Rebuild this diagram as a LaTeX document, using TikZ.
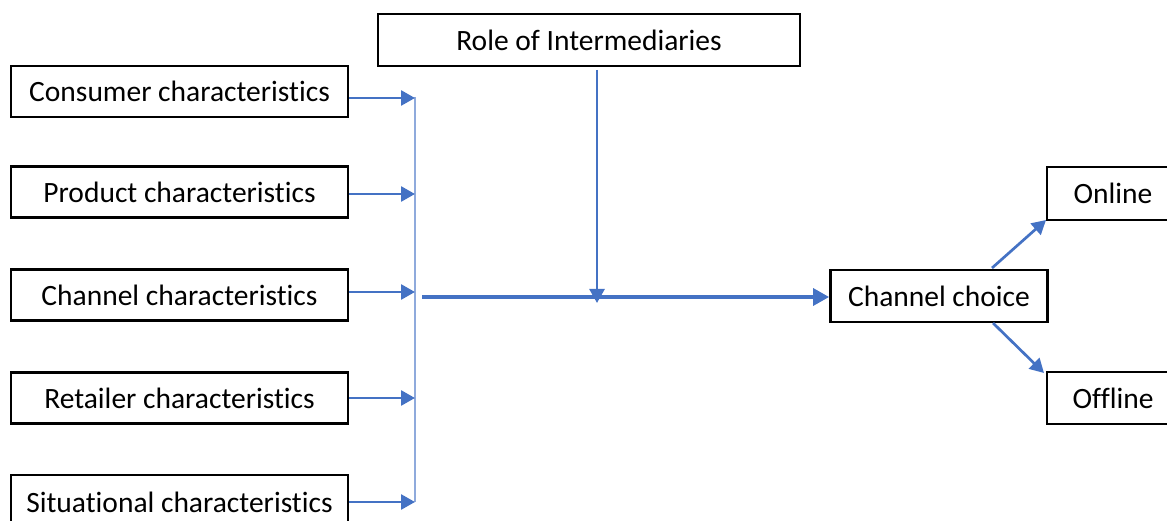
\documentclass[tikz,border=0pt]{standalone}
\usepackage{fontspec}
\setmainfont[Ligatures=NoCommon]{Carlito}
\usetikzlibrary{arrows.meta}
\definecolor{lblue}{HTML}{4472C4}
\definecolor{pblue}{HTML}{8FAADC}
\begin{document}
\begin{tikzpicture}[x=1pt,y=-1pt,
  box/.style={draw=black,line width=2.8pt,fill=white,inner sep=0pt,font=\fontsize{29.5}{33}\selectfont},
  conn/.style={draw=lblue,line width=2.7pt,-{Triangle[length=14pt,width=15pt]}},
  thick conn/.style={draw=lblue,line width=3.4pt,-{Triangle[length=16pt,width=17pt]}},
  bus/.style={draw=pblue,line width=1.8pt}]
\useasboundingbox (0,0) rectangle (1167,521);
\clip (0,0) rectangle (1167,521);
% left boxes
\node[box,minimum width=337,minimum height=51] (cons) at (179.5,91.5) {Consumer characteristics};
\node[box,minimum width=337,minimum height=51] (prod) at (179.5,192) {Product characteristics};
\node[box,minimum width=337,minimum height=51] (chan) at (179.5,295) {Channel characteristics};
\node[box,minimum width=337,minimum height=51] (ret) at (179.5,398) {Retailer characteristics};
\node[box,minimum width=337,minimum height=54] (sit) at (179.5,502) {Situational characteristics};
% top box
\node[box,minimum width=422,minimum height=52] (role) at (589,40) {Role of Intermediaries};
% right boxes
\node[box,minimum width=217,minimum height=52] (choice) at (939,296) {Channel choice};
\node[box,minimum width=132,minimum height=53] (onl) at (1113,193.5) {Online};
\node[box,minimum width=132,minimum height=52] (offl) at (1113,398) {Offline};
% bus coordinates
\coordinate (b1) at (415,98);
\coordinate (b2) at (415,194);
\coordinate (b3) at (415,292);
\coordinate (b4) at (415,398);
\coordinate (b5) at (415,502);
\coordinate (btop) at (415,97);
\coordinate (bbot) at (415,502);
\draw[bus] (btop) -- (bbot);
\draw[conn] (cons.east |- b1) -- (b1);
\draw[conn] (prod.east |- b2) -- (b2);
\draw[conn] (chan.east |- b3) -- (b3);
\draw[conn] (ret.east |- b4) -- (b4);
\draw[conn] (sit.east |- b5) -- (b5);
% main line
\coordinate (m) at (422,297);
\draw[thick conn] (m) -- (choice.west |- m);
% role arrow
\coordinate (r1) at (597,70);
\coordinate (r2) at (597,303);
\draw[conn] (r1) -- (r2);
% outcomes
\coordinate (o1) at (992,268);
\coordinate (o2) at (1046,220);
\coordinate (f1) at (993,323);
\coordinate (f2) at (1044,373);
\draw[conn] (o1) -- (o2);
\draw[conn] (f1) -- (f2);
\end{tikzpicture}
\end{document}
